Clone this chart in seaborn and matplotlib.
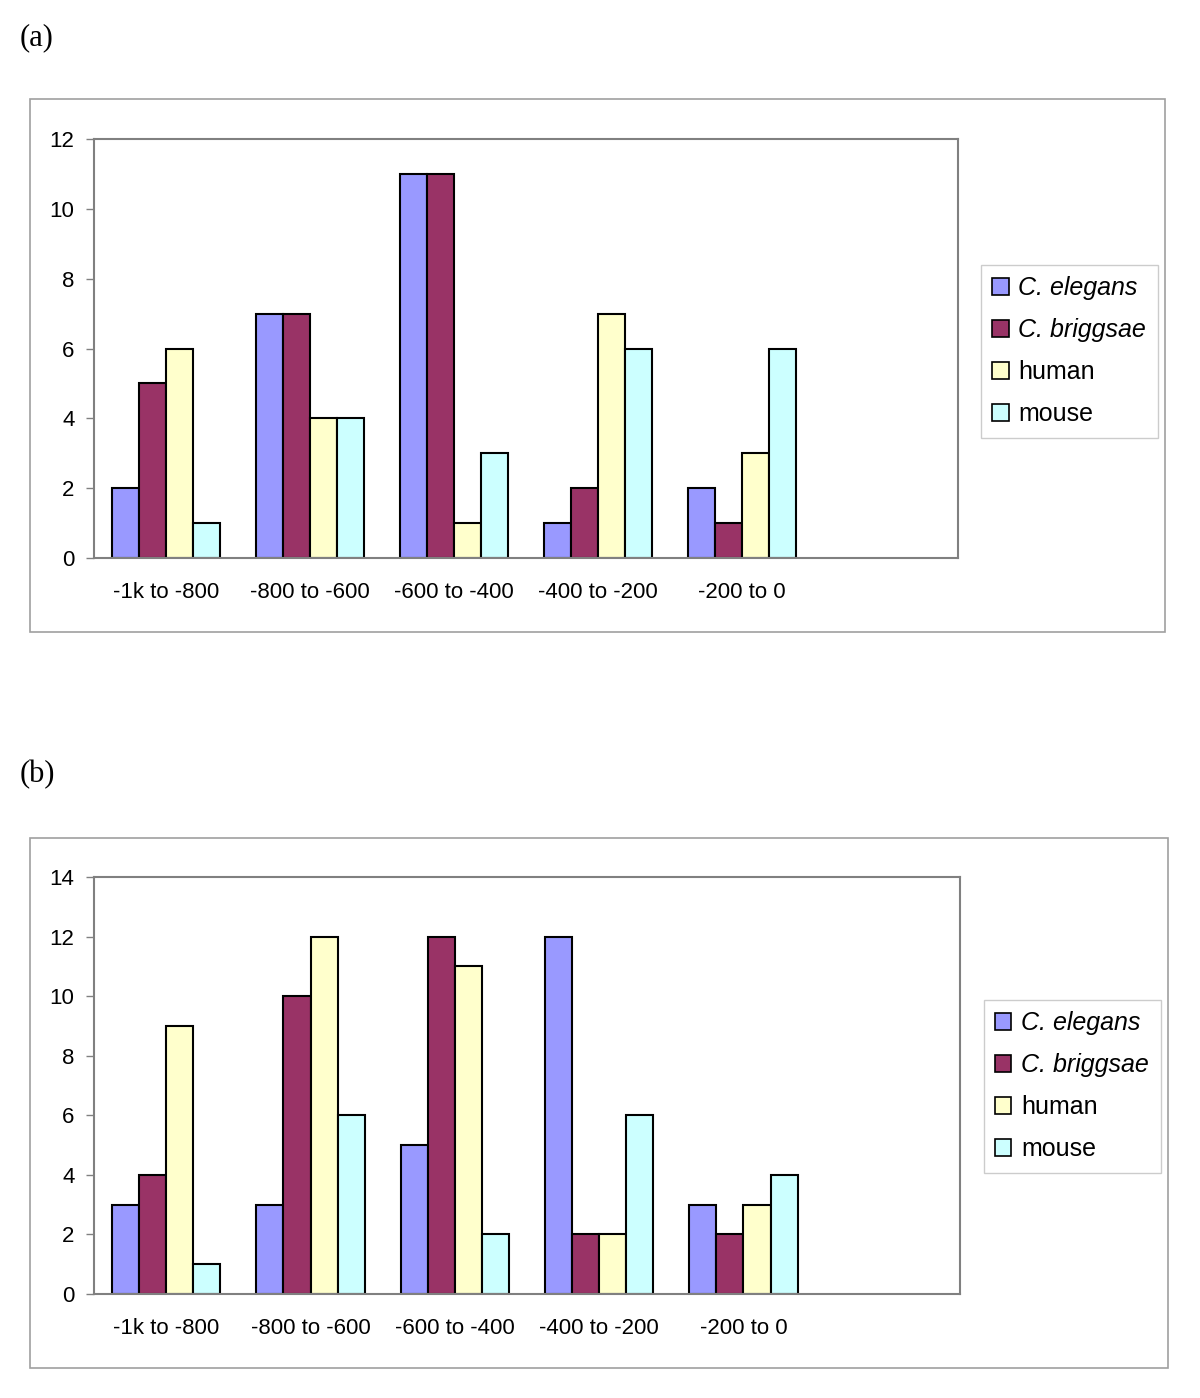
import pandas as pd
import matplotlib
matplotlib.use("Agg")
import matplotlib.pyplot as plt
import seaborn as sns
from matplotlib.patches import Rectangle, Patch

# categories and series
bins = ["-1k to -800", "-800 to -600", "-600 to -400", "-400 to -200", "-200 to 0"]
species = ["C. elegans", "C. briggsae", "human", "mouse"]
colors = ["#9999FF", "#993366", "#FFFFCC", "#CCFFFF"]

# panel (a)
a_elegans = [2, 7, 11, 1, 2]
a_briggsae = [5, 7, 11, 2, 1]
a_human = [6, 4, 1, 7, 3]
a_mouse = [1, 4, 3, 6, 6]

# panel (b)
b_elegans = [3, 3, 5, 12, 3]
b_briggsae = [4, 10, 12, 2, 2]
b_human = [9, 12, 11, 2, 3]
b_mouse = [1, 6, 2, 6, 4]


def to_long(series_list):
    rows = []
    for name, vals in zip(species, series_list):
        for b, v in zip(bins, vals):
            rows.append({"bin": b, "species": name, "count": v})
    return pd.DataFrame(rows)


sns.set_style("white")
plt.rcParams["font.family"] = ["Liberation Sans", "DejaVu Sans"]
plt.rcParams["text.color"] = "black"
plt.rcParams["xtick.labelcolor"] = "black"
plt.rcParams["ytick.labelcolor"] = "black"

W, H = 1200, 1398
fig = plt.figure(figsize=(W / 100, H / 100), dpi=100)


def draw_panel(df, rect, ymax, box, legend_pos, label, label_y):
    ax = fig.add_axes(rect)
    sns.barplot(data=df, x="bin", y="count", hue="species", order=bins,
                hue_order=species, palette=colors, saturation=1, width=0.75,
                gap=0, edgecolor="black", linewidth=1.5, errorbar=None, ax=ax,
                legend=False)
    ax.set_xlim(-0.5, 5.5)
    ax.set_ylim(0, ymax)
    ax.set_yticks(range(0, ymax + 1, 2))
    ax.set_xticks(range(5))
    ax.set_xticklabels(bins)
    ax.set_xticks([i - 0.5 for i in range(7)], minor=True)
    ax.tick_params(axis="x", which="major", length=0, pad=17, labelsize=16,
                   labelcolor="black")
    ax.tick_params(axis="x", which="minor", length=6, color="#808080", width=1)
    ax.tick_params(axis="y", length=6, color="#808080", width=1, labelsize=16, pad=8,
                   left=True, labelcolor="black")
    ax.set_xlabel("")
    ax.set_ylabel("")
    for s in ax.spines.values():
        s.set_color("#808080")
        s.set_linewidth(1.5)

    # outer chart border
    x0, y0, x1, y1 = box
    fig.add_artist(Rectangle((x0 / W, 1 - y1 / H), (x1 - x0) / W, (y1 - y0) / H,
                             transform=fig.transFigure, fill=False,
                             edgecolor="#A0A0A0", linewidth=1.2))

    handles = [Patch(facecolor=c, edgecolor="black", linewidth=1.2) for c in colors]
    leg = fig.legend(handles, species, loc="upper left",
                     bbox_to_anchor=(legend_pos[0] / W, 1 - legend_pos[1] / H),
                     bbox_transform=fig.transFigure, borderaxespad=0,
                     fontsize=18, frameon=True, fancybox=False,
                     handlelength=0.65, handleheight=0.65, handletextpad=0.4,
                     labelspacing=0.72, borderpad=0.45)
    leg.get_frame().set_edgecolor("#C0C0C0")
    leg.get_frame().set_linewidth(1)
    for t in leg.get_texts():
        t.set_color("black")
    for t in leg.get_texts()[:2]:
        t.set_fontstyle("italic")

    fig.text(20 / W, 1 - label_y / H, label, fontsize=22, color="black",
             family=["Liberation Serif", "DejaVu Serif"], va="center", ha="left")
    return ax


df_a = to_long([a_elegans, a_briggsae, a_human, a_mouse])
df_b = to_long([b_elegans, b_briggsae, b_human, b_mouse])

draw_panel(df_a, [94 / W, 1 - 558 / H, 864 / W, 419 / H], 12,
           (30, 99, 1165, 632), (981, 265), "(a)", 38)
draw_panel(df_b, [94 / W, 1 - 1294 / H, 866 / W, 417 / H], 14,
           (30, 838, 1168, 1368), (984, 1000), "(b)", 775)

fig.savefig("out.png", dpi=100)
